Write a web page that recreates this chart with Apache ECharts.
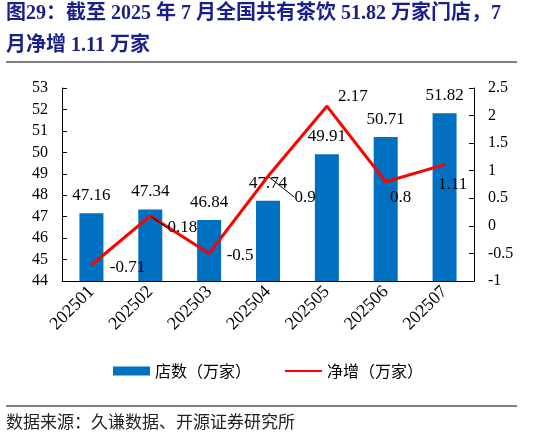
<!DOCTYPE html>
<html lang="zh">
<head>
    <meta charset="UTF-8">
    <title>全国茶饮门店数</title>
    <style>
        html,body{
            width: 100%;
            height: 100%;
            margin: 0;
            padding: 0;
            background: #fff;
        }
    </style>
</head>
<body>
<div id="main" style="width: 536px;height:436px;"></div>

<script src="https://cdn.jsdelivr.net/npm/echarts@6/dist/echarts.min.js"></script>
<script>
    // 数据
    var months = ['202501', '202502', '202503', '202504', '202505', '202506', '202507'];
    var storeCount = [47.16, 47.34, 46.84, 47.74, 49.91, 50.71, 51.82];
    var netAdd = [-0.71, 0.18, -0.5, 0.9, 2.17, 0.8, 1.11];

    // 净增标签相对数据点的偏移（像素），以及哪些需要引导线
    var netLabelShift = [[36, 3], [32, 12], [31, 2], [37, 21], [26, -10], [15, 16], [8, 20]];
    var withGuide = [false, true, false, true, false, false, false];

    var serif = '"Liberation Serif", "Times New Roman", serif';
    var cjk = '"Liberation Serif", "Noto Sans CJK SC", serif';

    var myChart = echarts.init(document.getElementById('main'));

    var netData = netAdd.map(function (v, i) {
        return withGuide[i] ? {value: v, labelLine: {show: true}} : {value: v};
    });

    myChart.setOption({
        animation: false,
        textStyle: {fontFamily: serif},
        grid: {left: 62, right: 62, top: 88, bottom: 155},
        legend: {
            bottom: 52,
            left: 'center',
            itemGap: 33,
            itemWidth: 37,
            itemHeight: 9,
            textStyle: {fontFamily: '"Noto Sans CJK SC"', fontSize: 16, color: '#000'},
            data: [
                {name: '店数（万家）', icon: 'rect'},
                {name: '净增（万家）', itemStyle: {opacity: 0}}
            ]
        },
        xAxis: {
            type: 'category',
            data: months,
            axisLine: {onZero: false, lineStyle: {color: '#000', width: 1}},
            axisTick: {inside: true, length: 5, lineStyle: {color: '#000'}},
            axisLabel: {rotate: 45, fontSize: 18, color: '#000', fontFamily: serif, margin: 8}
        },
        yAxis: [
            {
                type: 'value',
                min: 44, max: 53, interval: 1,
                splitLine: {show: false},
                axisLine: {show: true, lineStyle: {color: '#000'}},
                axisTick: {show: true, inside: true, length: 5, lineStyle: {color: '#000'}},
                axisLabel: {fontSize: 16, color: '#000', fontFamily: serif, margin: 14}
            },
            {
                type: 'value',
                min: -1, max: 2.5, interval: 0.5,
                splitLine: {show: false},
                axisLine: {show: true, lineStyle: {color: '#000'}},
                axisTick: {show: true, inside: true, length: 5, lineStyle: {color: '#000'}},
                axisLabel: {fontSize: 16, color: '#000', fontFamily: serif, margin: 14}
            }
        ],
        series: [
            {
                name: '店数（万家）',
                type: 'bar',
                data: storeCount,
                barWidth: 24,
                itemStyle: {color: '#0070C0'},
                label: {
                    show: true,
                    position: 'top',
                    distance: 9,
                    fontSize: 17,
                    color: '#000',
                    fontFamily: serif
                }
            },
            {
                name: '净增（万家）',
                type: 'line',
                yAxisIndex: 1,
                data: netData,
                symbol: 'circle',
                symbolSize: 2,
                itemStyle: {color: '#FF0000'},
                lineStyle: {color: '#FF0000', width: 3},
                label: {
                    show: true,
                    position: 'inside',
                    fontSize: 17,
                    color: '#000',
                    fontFamily: serif
                },
                labelLine: {show: false, lineStyle: {color: '#000', width: 1}},
                labelLayout: function (params) {
                    var s = netLabelShift[params.dataIndex];
                    return {dx: s[0], dy: s[1]};
                },
                z: 3
            }
        ],
        graphic: [
            {
                type: 'text', left: 6, top: 4,
                style: {
                    text: '图29：截至 2025 年 7 月全国共有茶饮 51.82 万家门店，7',
                    font: 'bold 20px ' + cjk,
                    fill: '#1B1F8A'
                }
            },
            {
                type: 'text', left: 6, top: 36,
                style: {
                    text: '月净增 1.11 万家',
                    font: 'bold 20px ' + cjk,
                    fill: '#1B1F8A'
                }
            },
            {
                type: 'line',
                shape: {x1: 6, y1: 62, x2: 517, y2: 62},
                style: {stroke: '#000', lineWidth: 1}
            },
            {
                type: 'line',
                shape: {x1: 6, y1: 406, x2: 517, y2: 406},
                style: {stroke: '#000', lineWidth: 1}
            },
            {
                type: 'text', left: 6, top: 413,
                style: {
                    text: '数据来源：久谦数据、开源证券研究所',
                    font: '17px "Noto Sans CJK SC"',
                    fill: '#222'
                }
            }
        ]
    });
</script>
</body>
</html>
